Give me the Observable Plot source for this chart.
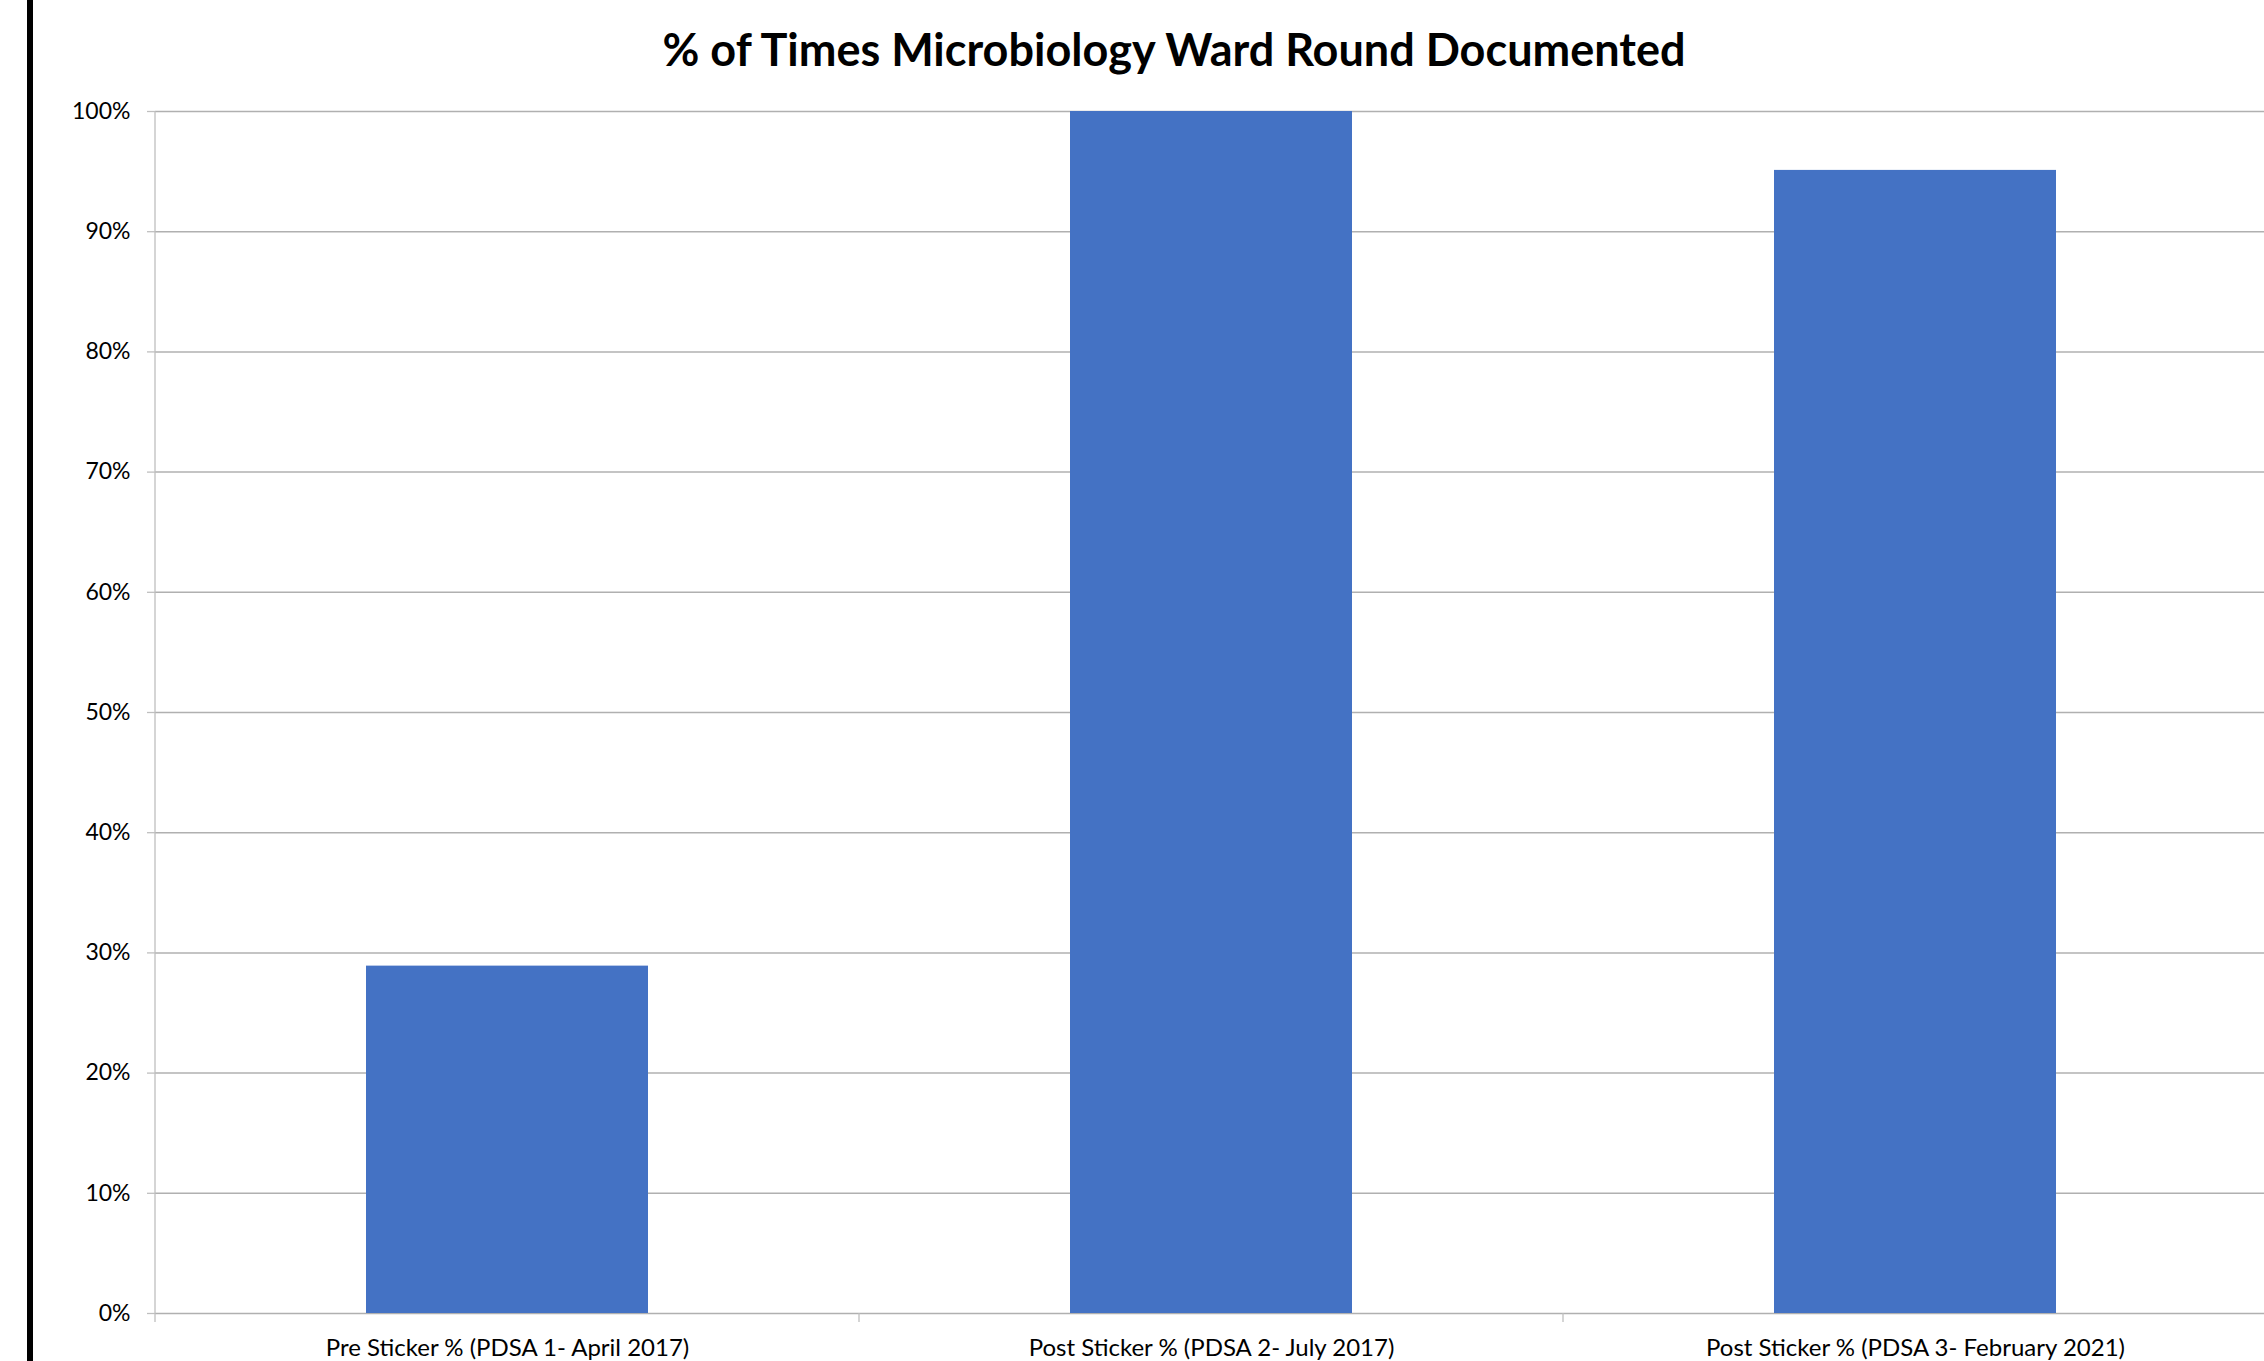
<!DOCTYPE html>
<html>
<head>
<meta charset="utf-8">
<script src="https://cdn.jsdelivr.net/npm/d3@7"></script>
<script src="https://cdn.jsdelivr.net/npm/@observablehq/plot@0.6"></script>
<style>
  html, body { margin: 0; padding: 0; background: #fff; }
  #wrap { position: relative; width: 2264px; height: 1361px; overflow: hidden; background: #fff; }
  #title { box-sizing: border-box; width: 2264px; height: 90px; padding-top: 27px; padding-left: 84px;
           text-align: center; font-family: Lato, sans-serif; font-weight: bold; font-size: 45px; line-height: 45px; color: #000; }
  #bar { position: absolute; left: 27px; top: 0; width: 6px; height: 1361px; background: #000; z-index: 5; }
  #chart svg { display: block; }
</style>
</head>
<body>
<div id="wrap">
  <div id="title">% of Times Microbiology Ward Round Documented</div>
  <div id="chart"></div>
  <div id="bar"></div>
</div>
<script>
const categories = [
  "Pre Sticker % (PDSA 1- April 2017)",
  "Post Sticker % (PDSA 2- July 2017)",
  "Post Sticker % (PDSA 3- February 2021)"
];
const values = [0.289, 1.0, 0.951];
const yTicks = [0, 0.1, 0.2, 0.3, 0.4, 0.5, 0.6, 0.7, 0.8, 0.9, 1.0];

const data = categories.map((c, i) => ({category: c, value: values[i]}));

// axis line + category boundary ticks, derived from the scales
function axisFrame(index, scales, values, dims) {
  const g = d3.create("svg:g");
  const x = scales.x, y = scales.y;
  const bw = x.bandwidth();
  const centers = categories.map(c => x(c) + bw / 2);
  const step = centers.length > 1 ? centers[1] - centers[0] : bw;
  const bounds = [centers[0] - step / 2, ...centers.map(c => c + step / 2)];
  const y0 = y(0), y1 = y(1);
  g.append("line").attr("x1", bounds[0]).attr("x2", bounds[0]).attr("y1", y1).attr("y2", y0 + 9)
    .attr("stroke", "#bfbfbf").attr("stroke-width", 1.3);
  for (const b of bounds.slice(1)) {
    g.append("line").attr("x1", b).attr("x2", b).attr("y1", y0).attr("y2", y0 + 9)
      .attr("stroke", "#bfbfbf").attr("stroke-width", 1.3);
  }
  return g.node();
}

const chart = Plot.plot({
  width: 2264,
  height: 1271,
  marginLeft: 155,
  marginRight: -3,
  marginTop: 21,
  marginBottom: 48,
  style: {fontFamily: "Lato, sans-serif", color: "#000", background: "#fff", overflow: "visible"},
  x: {domain: categories, paddingInner: 0.6, paddingOuter: 0.3, align: 0.5},
  y: {domain: [0, 1]},
  marks: [
    Plot.gridY(yTicks, {stroke: "#b0b0b0", strokeOpacity: 1, strokeWidth: 1.5}),
    Plot.barY(data, {x: "category", y: "value", fill: "#4472C4"}),
    axisFrame,
    Plot.axisY(yTicks, {tickFormat: d3.format(".0%"), tickSize: 8, tickPadding: 17, stroke: "#bfbfbf", strokeWidth: 1.3, fill: "#000", fontSize: 23, label: null}),
    Plot.axisX({tickSize: 0, tickPadding: 25, fontSize: 24, fill: "#000", label: null})
  ]
});
document.getElementById("chart").appendChild(chart);
</script>
</body>
</html>
